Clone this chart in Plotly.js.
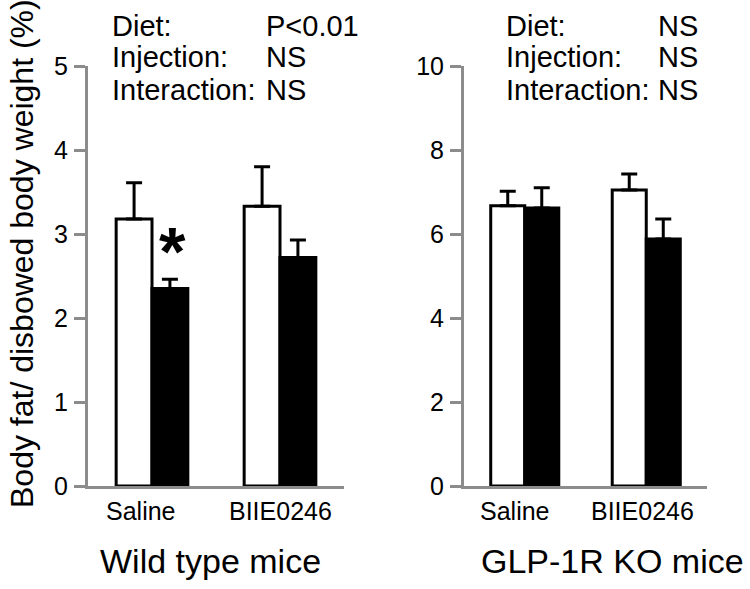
<!DOCTYPE html>
<html>
<head>
<meta charset="utf-8">
<script src="https://cdn.plot.ly/plotly-3.0.1.min.js"></script>
<style>html,body{margin:0;padding:0;background:#fff;}#chart{width:750px;height:589px;}</style>
</head>
<body>
<div id="chart"></div>
<script>
const categories = ['Saline', 'BIIE0246'];
const wtWhite = [3.18, 3.33];
const wtWhiteErr = [0.43, 0.47];
const wtBlack = [2.35, 2.72];
const wtBlackErr = [0.11, 0.21];
const koWhite = [6.67, 7.05];
const koWhiteErr = [0.35, 0.38];
const koBlack = [6.62, 5.88];
const koBlackErr = [0.48, 0.48];
const wtTicks = [0, 1, 2, 3, 4, 5];
const koTicks = [0, 2, 4, 6, 8, 10];
const wtStats = [['Diet:', 'P<0.01'], ['Injection:', 'NS'], ['Interaction:', 'NS']];
const koStats = [['Diet:', 'NS'], ['Injection:', 'NS'], ['Interaction:', 'NS']];

const W = 750, H = 589;
const px = x => x / W;
const py = y => (H - y) / H;
const FONT = 'Liberation Sans, Arial, sans-serif';
const AX = '#8c8c8c';

function bar(x, y, err, fill, xa, ya) {
  return {
    type: 'bar', x: x, y: y, xaxis: xa, yaxis: ya,
    marker: {color: fill, line: {color: '#000', width: 3}},
    error_y: {type: 'data', symmetric: false, array: err, arrayminus: err.map(() => 0),
      color: '#000', thickness: 3, width: 8},
    showlegend: false, hoverinfo: 'skip'
  };
}

const traces = [
  bar(categories, wtWhite, wtWhiteErr, '#fff', 'x', 'y'),
  bar(categories, wtBlack, wtBlackErr, '#000', 'x', 'y'),
  bar(categories, koWhite, koWhiteErr, '#fff', 'x2', 'y2'),
  bar(categories, koBlack, koBlackErr, '#000', 'x2', 'y2')
];

const xaxisBase = {
  type: 'category', range: [-0.5, 1.5], showline: true, linecolor: AX, linewidth: 3,
  ticks: '', showgrid: false, zeroline: false, showticklabels: false
};
const yaxisBase = {
  showline: true, linecolor: AX, linewidth: 3, ticks: 'outside', ticklen: 11,
  tickwidth: 3, tickcolor: AX, showgrid: false, zeroline: false,
  tickfont: {family: FONT, size: 25, color: '#000'}, ticklabelstandoff: 1,
  domain: [py(486), py(66)]
};

const annotations = [];
function stats(list, xl, xv) {
  const ys = [26, 57, 90];
  list.forEach((r, i) => {
    annotations.push({xref: 'paper', yref: 'paper', x: px(xl), y: py(ys[i]), xanchor: 'left', yanchor: 'middle',
      text: r[0], showarrow: false, font: {family: FONT, size: 29, color: '#000'}});
    annotations.push({xref: 'paper', yref: 'paper', x: px(xv), y: py(ys[i]), xanchor: 'left', yanchor: 'middle',
      text: r[1], showarrow: false, font: {family: FONT, size: 29, color: '#000'}});
  });
}
stats(wtStats, 110, 264);
stats(koStats, 504, 656);

// category tick labels, placed through each x axis
const shiftsWT = [-11, 0];
const shiftsKO = [-10, -4];
categories.forEach((c, i) => {
  annotations.push({xref: 'x', yref: 'paper', x: c, y: py(511), xshift: shiftsWT[i], xanchor: 'center', yanchor: 'middle',
    text: c, showarrow: false, font: {family: FONT, size: 25, color: '#000'}});
  annotations.push({xref: 'x2', yref: 'paper', x: c, y: py(511), xshift: shiftsKO[i], xanchor: 'center', yanchor: 'middle',
    text: c, showarrow: false, font: {family: FONT, size: 25, color: '#000'}});
});

annotations.push({xref: 'paper', yref: 'paper', x: px(210), y: py(561), xanchor: 'center', yanchor: 'middle',
  text: 'Wild type mice', showarrow: false, font: {family: FONT, size: 34, color: '#000'}});
annotations.push({xref: 'paper', yref: 'paper', x: px(612), y: py(561), xanchor: 'center', yanchor: 'middle',
  text: 'GLP-1R KO mice', showarrow: false, font: {family: FONT, size: 34, color: '#000'}});
annotations.push({xref: 'paper', yref: 'paper', x: px(22), y: py(254), xanchor: 'center', yanchor: 'middle',
  textangle: -90, text: 'Body fat/ disbowed body weight (%)', showarrow: false,
  font: {family: FONT, size: 32, color: '#000'}});
annotations.push({xref: 'paper', yref: 'paper', x: px(172), y: py(251), xanchor: 'center', yanchor: 'middle',
  text: '<b>*</b>', showarrow: false, font: {family: FONT, size: 68, color: '#000'}});

const layout = {
  width: W, height: H,
  margin: {l: 0, r: 0, t: 0, b: 0},
  paper_bgcolor: '#fff', plot_bgcolor: '#fff',
  barmode: 'group', bargap: 0.44, bargroupgap: 0,
  showlegend: false,
  xaxis: Object.assign({}, xaxisBase, {domain: [px(88), px(344)], anchor: 'y'}),
  yaxis: Object.assign({}, yaxisBase, {range: [0, 5], tickvals: wtTicks, anchor: 'x'}),
  xaxis2: Object.assign({}, xaxisBase, {domain: [px(464), px(707)], anchor: 'y2'}),
  yaxis2: Object.assign({}, yaxisBase, {range: [0, 10], tickvals: koTicks, anchor: 'x2'}),
  annotations: annotations
};

Plotly.newPlot('chart', traces, layout, {displayModeBar: false, staticPlot: true});
</script>
</body>
</html>
